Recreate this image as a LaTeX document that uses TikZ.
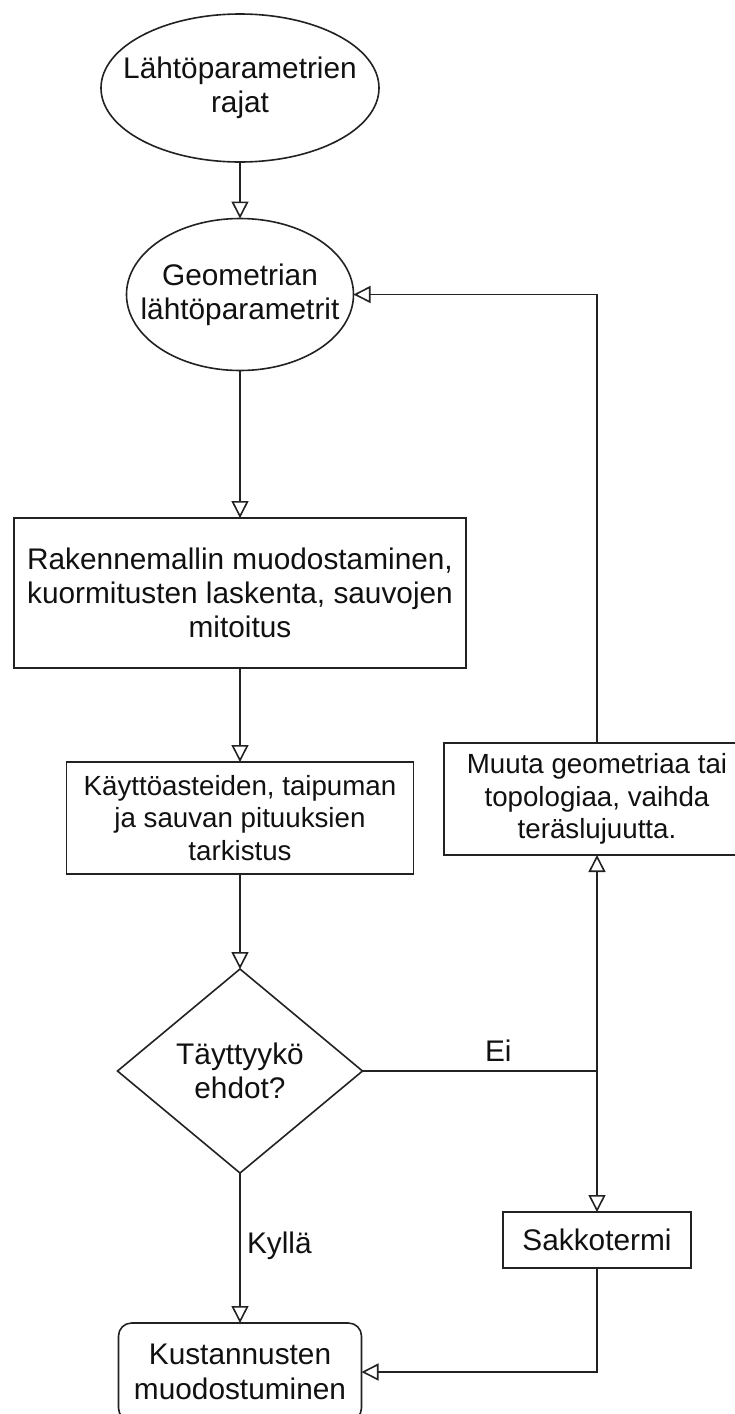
\documentclass[tikz,border=0pt]{standalone}
\usepackage{fontspec}
\setmainfont{Liberation Sans}
\usetikzlibrary{shapes.geometric,arrows.meta}
\definecolor{ln}{HTML}{222222}
\definecolor{tx}{HTML}{111111}
\begin{document}
\begin{tikzpicture}[x=1pt,y=-1pt,
  every node/.style={inner sep=0pt, outer sep=0pt, text=tx},
  lbl/.style={font=\fontsize{29.8pt}{34.3pt}\selectfont, align=center},
  lbls/.style={font=\fontsize{27.7pt}{32.5pt}\selectfont, align=center},
  shp/.style={draw=ln, line width=1.6pt, fill=white},
  ell/.style={shp, ellipse},
  boxx/.style={shp, rectangle, lbl},
  dia/.style={shp, diamond},
  arr/.style={draw=ln, line width=1.6pt, -{Triangle[open, length=17pt, width=17pt, line width=1.6pt]}},
  con/.style={draw=ln, line width=1.6pt}
]
\useasboundingbox (0,0) rectangle (734,1414);
\fill[white] (0,0) rectangle (734,1414);

\node[ell, minimum width=278pt, minimum height=148pt] (e1) at (240,88) {};
\node[lbl] (t1) at (e1.center) {Lähtöparametrien\\rajat};

\node[ell, minimum width=227pt, minimum height=152pt] (e2) at (240,294.5) {};
\node[lbl] (t2) at (e2.center) {Geometrian\\lähtöparametrit};

\node[boxx, minimum width=452pt, minimum height=150pt] (b1) at (240,593)
  {Rakennemallin muodostaminen,\\kuormitusten laskenta, sauvojen\\mitoitus};

\node[boxx, lbls, minimum width=347pt, minimum height=112pt] (b2) at (240,818)
  {Käyttöasteiden, taipuman\\ja sauvan pituuksien\\tarkistus};

\node[dia, minimum width=245pt, minimum height=204pt] (d) at (240,1071) {};
\node[lbl] (td) at (d.center) {Täyttyykö\\ehdot?};

\node[shp, rounded corners=13pt, minimum width=243pt, minimum height=98pt, lbl] (rb) at (240,1372)
  {Kustannusten\\muodostuminen};

\node[boxx, lbls, minimum width=306pt, minimum height=112pt] (mu) at (597,799)
  {Muuta geometriaa tai\\topologiaa, vaihda\\teräslujuutta.};

\node[boxx, minimum width=188pt, minimum height=56pt] (sk) at (597,1240) {Sakkotermi};

\coordinate (j) at (597,1071);

\draw[arr] (e1) -- (e2);
\draw[arr] (e2) -- (b1);
\draw[arr] (b1) -- (b2);
\draw[arr] (b2) -- (d);
\draw[arr] (d.south) -- (rb.north);
\draw[con] (d.east) -- (j);
\draw[arr] (j) -- (mu.south);
\draw[arr] (j) -- (sk.north);
\draw[arr] (mu.north) |- (e2.east);
\draw[arr] (sk.south) |- (rb.east);

\node[lbl, anchor=base west] (ei) at (485,1061) {Ei};
\node[lbl, anchor=base west] (ky) at (247,1253) {Kyllä};
\end{tikzpicture}
\end{document}
